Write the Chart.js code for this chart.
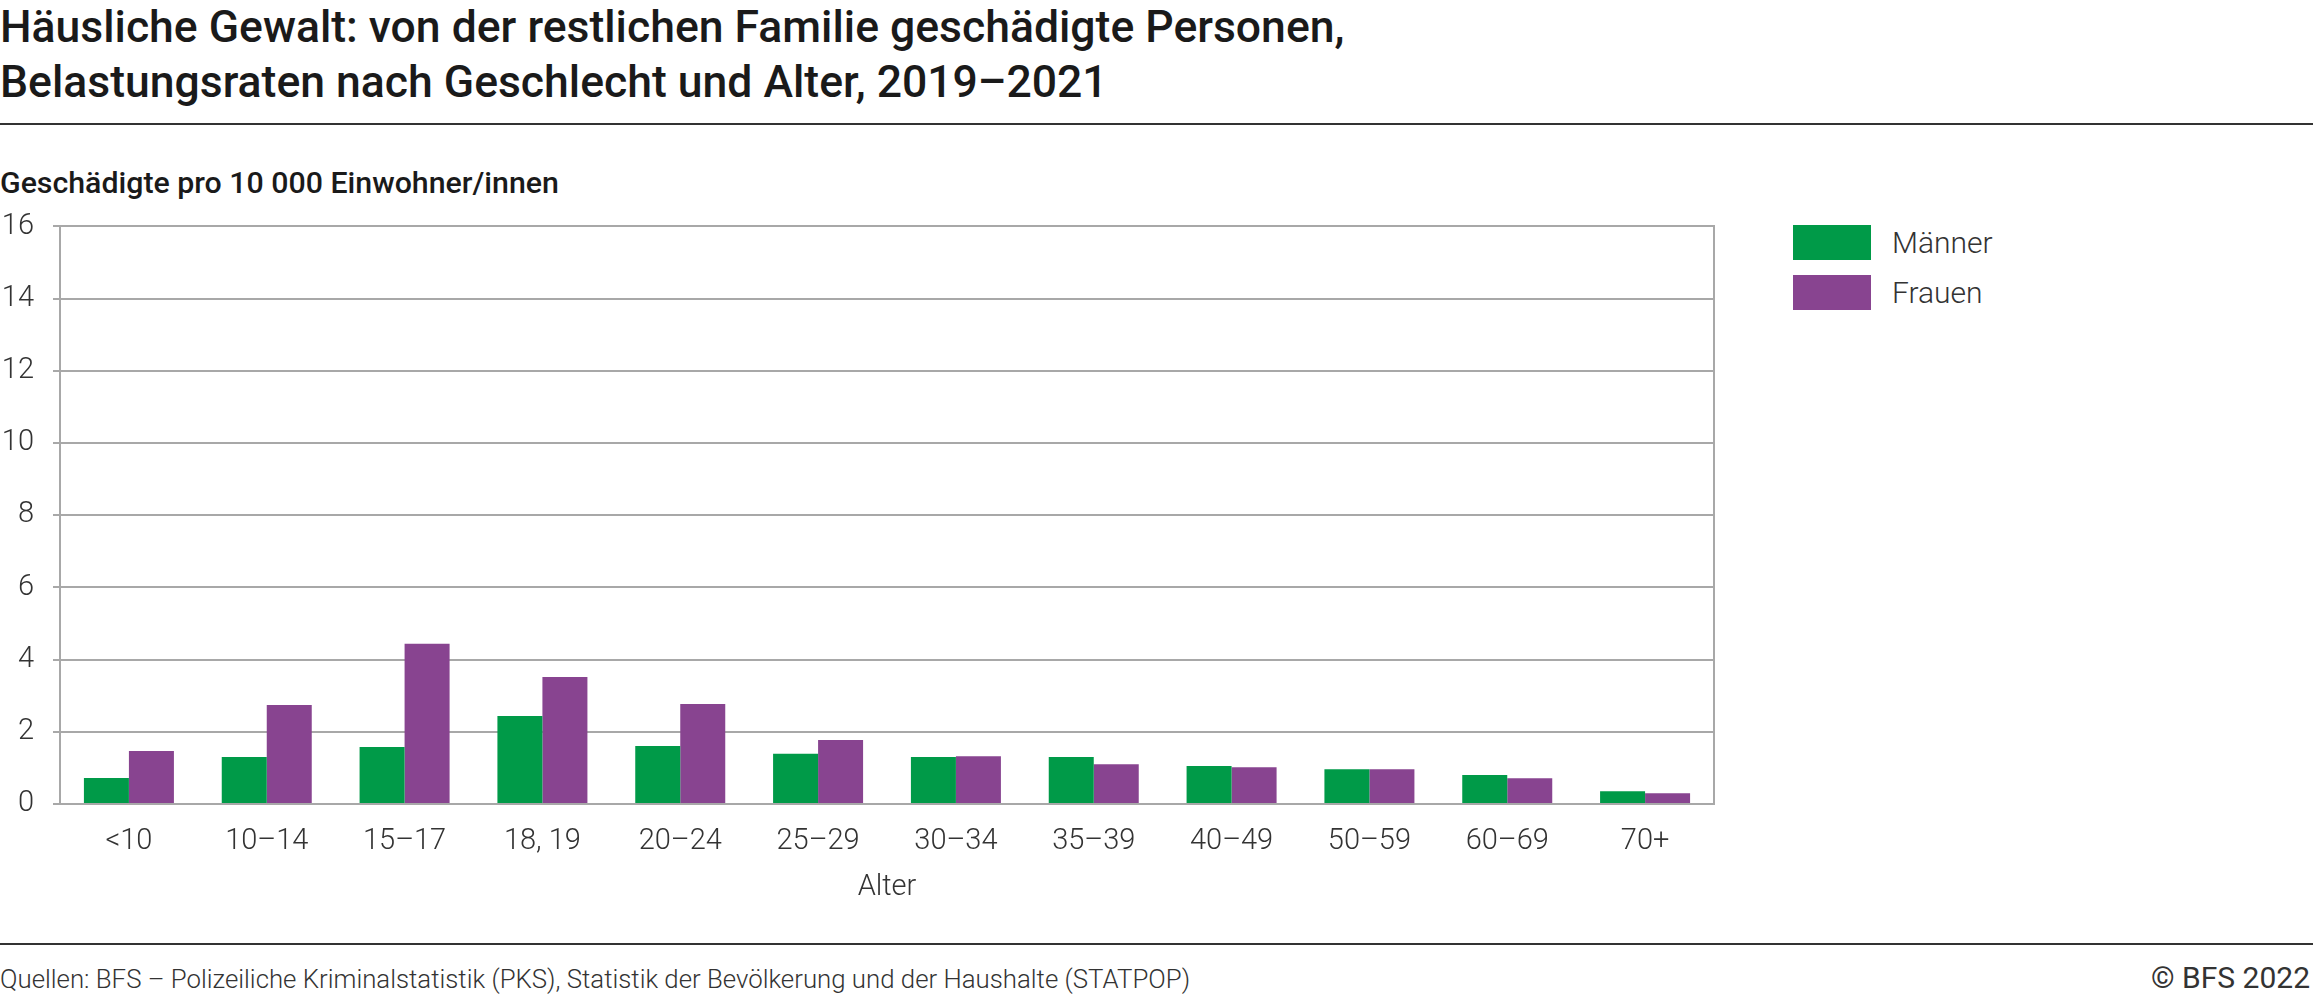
<!DOCTYPE html>
<html><head><meta charset="utf-8">
<script src="https://cdn.jsdelivr.net/npm/chart.js@4.4.1/dist/chart.umd.min.js"></script>
<style>
html,body{margin:0;padding:0;background:#fff;}
body{width:2313px;height:995px;position:relative;overflow:hidden;font-family:Roboto,"Noto Sans",sans-serif;color:#1a1a1a;}
#title{position:absolute;left:0;top:0;font-size:44.5px;font-weight:500;line-height:55px;white-space:nowrap;}
.rule{position:absolute;left:0;width:2313px;height:2px;background:#333;}
#ytitle{position:absolute;left:0;top:165px;font-size:30.3px;font-weight:500;line-height:36px;white-space:nowrap;}
#wrap{position:absolute;left:0;top:190px;width:1760px;height:720px;}
.leg{position:absolute;left:1793px;width:78px;height:35px;}
.legt{position:absolute;left:1892px;font-size:30px;font-weight:300;line-height:36px;color:#333;}
#src{position:absolute;left:0;top:962px;font-size:25.8px;font-weight:300;line-height:34px;color:#333;white-space:nowrap;}
#copy{position:absolute;right:3px;top:960px;font-size:30px;font-weight:400;line-height:36px;color:#333;white-space:nowrap;}
</style></head>
<body>
<div id="title">Häusliche Gewalt: von der restlichen Familie geschädigte Personen,<br>Belastungsraten nach Geschlecht und Alter, 2019–2021</div>
<div class="rule" style="top:123px"></div>
<div id="ytitle">Geschädigte pro 10 000 Einwohner/innen</div>
<div id="wrap"><canvas id="c"></canvas></div>
<div class="leg" style="top:225px;background:#009a48"></div>
<div class="legt" style="top:225px">Männer</div>
<div class="leg" style="top:275px;background:#884490"></div>
<div class="legt" style="top:275px">Frauen</div>
<div class="rule" style="top:943px"></div>
<div id="src">Quellen: BFS – Polizeiliche Kriminalstatistik (PKS), Statistik der Bevölkerung und der Haushalte (STATPOP)</div>
<div id="copy">© BFS 2022</div>
<script>
const categories = ["<10","10–14","15–17","18, 19","20–24","25–29","30–34","35–39","40–49","50–59","60–69","70+"];
const maenner = [0.72,1.30,1.58,2.44,1.61,1.39,1.30,1.30,1.05,0.96,0.80,0.35];
const frauen  = [1.47,2.74,4.44,3.52,2.77,1.77,1.32,1.10,1.02,0.96,0.71,0.30];
const seriesNames = ["Männer","Frauen"];
const yTicks = [0,2,4,6,8,10,12,14,16];

const GRID = '#a8a8a8';
new Chart(document.getElementById('c'), {
  type: 'bar',
  data: {
    labels: categories,
    datasets: [
      {label: seriesNames[0], data: maenner, backgroundColor: '#009a48', categoryPercentage: 0.653, barPercentage: 1.0, borderWidth: 0},
      {label: seriesNames[1], data: frauen, backgroundColor: '#884490', categoryPercentage: 0.653, barPercentage: 1.0, borderWidth: 0}
    ]
  },
  options: {
    responsive: true,
    maintainAspectRatio: false,
    animation: false,
    devicePixelRatio: 1,
    layout: {padding: {top: 15, right: 46, bottom: 0, left: 0}},
    plugins: {legend: {display: false}, tooltip: {enabled: false}},
    scales: {
      x: {
        grid: {display: false, drawTicks: false},
        border: {display: true, color: GRID, width: 2},
        ticks: {color: '#333', font: {family: 'Roboto', size: 29, weight: 300, lineHeight: 1.2}, padding: 20, maxRotation: 0, autoSkip: false},
        title: {display: true, text: 'Alter', color: '#333', font: {family: 'Roboto', size: 29, weight: 300, lineHeight: 1.2}, padding: {top: 8, bottom: 5}},
        afterFit: s => { s.height = 106; }
      },
      y: {
        min: 0, max: 16,
        afterBuildTicks: s => { s.ticks = yTicks.map(v => ({value: v})); },
        grid: {color: GRID, lineWidth: 2, tickLength: 7, drawTicks: true},
        border: {display: true, color: GRID, width: 2},
        ticks: {color: '#333', font: {family: 'Roboto', size: 29, weight: 300}, padding: 19},
        afterFit: s => { s.width = 60; }
      },
      y2: {
        position: 'right', min: 0, max: 16,
        grid: {display: false},
        border: {display: true, color: GRID, width: 2},
        ticks: {display: false},
        afterFit: s => { s.width = 0; }
      }
    }
  }
});
</script>
</body></html>
